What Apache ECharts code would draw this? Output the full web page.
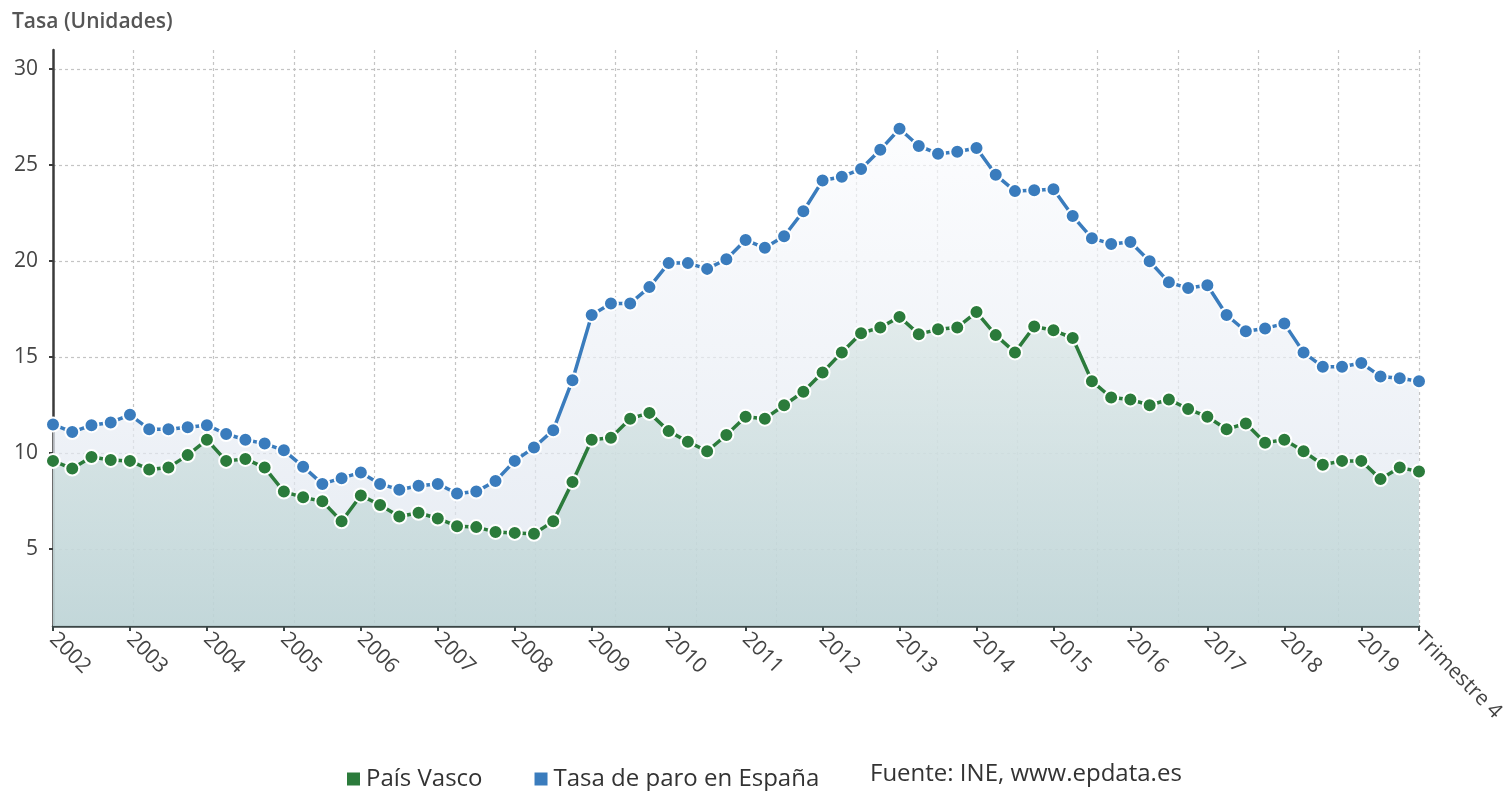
<!DOCTYPE html>
<html>
<head>
<meta charset="utf-8">
<title>Tasa de paro</title>
<script src="https://cdn.jsdelivr.net/npm/echarts@6/dist/echarts.min.js"></script>
<style>
  html, body { margin: 0; padding: 0; background: #fff; }
  #chart { width: 1505px; height: 791px; }
</style>
</head>
<body>
<div id="chart"></div>
<script>
// años y trimestres (eje x)
const years = ['2002', '2003', '2004', '2005', '2006', '2007', '2008', '2009', '2010',
  '2011', '2012', '2013', '2014', '2015', '2016', '2017', '2018', '2019']
const quarters = ['Trimestre 1', 'Trimestre 2', 'Trimestre 3', 'Trimestre 4']

// marcas del eje y
const yTicks = [5, 10, 15, 20, 25, 30]

// País Vasco
const paisVasco = [
  9.6, 9.2, 9.8, 9.65, 9.6, 9.15, 9.25, 9.9,
  10.7, 9.6, 9.7, 9.25, 8.0, 7.7, 7.5, 6.45,
  7.8, 7.3, 6.7, 6.9, 6.6, 6.2, 6.15, 5.9,
  5.85, 5.8, 6.45, 8.5, 10.7, 10.8, 11.8, 12.1,
  11.15, 10.6, 10.1, 10.95, 11.9, 11.8, 12.5, 13.2,
  14.2, 15.25, 16.25, 16.55, 17.1, 16.2, 16.45, 16.55,
  17.35, 16.15, 15.25, 16.6, 16.4, 16.0, 13.75, 12.9,
  12.8, 12.5, 12.8, 12.3, 11.9, 11.25, 11.55, 10.55,
  10.7, 10.1, 9.4, 9.6, 9.6, 8.65, 9.25, 9.05
]

// Tasa de paro en España
const espana = [
  11.5, 11.1, 11.46, 11.6, 12.0, 11.25, 11.25, 11.35,
  11.46, 11.0, 10.7, 10.5, 10.15, 9.3, 8.4, 8.7,
  9.0, 8.4, 8.1, 8.3, 8.4, 7.9, 8.0, 8.55,
  9.6, 10.3, 11.2, 13.8, 17.2, 17.8, 17.8, 18.65,
  19.9, 19.9, 19.6, 20.1, 21.1, 20.7, 21.3, 22.6,
  24.2, 24.4, 24.8, 25.8, 26.9, 26.0, 25.6, 25.7,
  25.9, 24.5, 23.65, 23.7, 23.75, 22.35, 21.2, 20.9,
  21.0, 20.0, 18.9, 18.6, 18.75, 17.2, 16.35, 16.5,
  16.75, 15.25, 14.5, 14.5, 14.7, 14.0, 13.9, 13.75
]

const categories = []
years.forEach((y) => quarters.forEach((q) => categories.push(y + ' ' + q)))
const lastIdx = categories.length - 1

const FONT = '"Open Sans", "Noto Sans", sans-serif'
const BLUE = '#3a7cbd'
const GREEN = '#2b7b3b'

const chart = echarts.init(document.getElementById('chart'))

const showIdx = (i) => i % 4 === 0 || i === lastIdx

const option = {
  animation: false,
  textStyle: { fontFamily: FONT },
  title: {
    text: 'Tasa (Unidades)',
    left: 12,
    top: 12,
    padding: 0,
    textStyle: { fontFamily: FONT, fontSize: 21, fontWeight: 600, color: '#555' }
  },
  legend: {
    data: ['País Vasco', 'Tasa de paro en España'],
    left: 340,
    top: 762,
    icon: 'rect',
    itemWidth: 15,
    itemHeight: 15,
    itemGap: 50,
    textStyle: { fontFamily: FONT, fontSize: 24, color: '#333' }
  },
  graphic: [{
    type: 'text',
    left: 870,
    top: 762,
    style: { text: 'Fuente: INE, www.epdata.es', font: '24px ' + FONT, fill: '#333' }
  }],
  grid: { left: 53, right: 86, top: 50, bottom: 165, outerBoundsMode: 'none' },
  xAxis: [
    {
      type: 'category',
      data: categories,
      boundaryGap: false,
      axisLine: { lineStyle: { color: '#3b4646', width: 2.5 } },
      axisTick: { interval: (i) => showIdx(i), length: 5, lineStyle: { color: '#3b4646', width: 2 } },
      axisLabel: {
        interval: (i) => showIdx(i),
        rotate: -45,
        margin: 10,
        fontSize: 21,
        color: '#444',
        fontFamily: FONT,
        formatter: (v, i) => (i === lastIdx ? quarters[3] : v.slice(0, 4))
      },
      splitLine: { show: false }
    },
    {
      // rejilla vertical
      type: 'value',
      position: 'top',
      min: 0,
      max: 17,
      interval: 1,
      axisLine: { show: false },
      axisTick: { show: false },
      axisLabel: { show: false },
      splitLine: { show: true, lineStyle: { color: '#c4c4c4', type: [3, 3], width: 1.2 } }
    }
  ],
  yAxis: {
    type: 'value',
    min: 1,
    max: 31,
    axisLine: { show: true, lineStyle: { color: '#3b3b3b', width: 2.5 } },
    axisTick: { show: true, customValues: yTicks, length: 4, lineStyle: { color: '#3b3b3b', width: 2 } },
    axisLabel: { customValues: yTicks, fontSize: 21, color: '#444', fontFamily: FONT, margin: 15 },
    splitLine: { show: true, lineStyle: { color: '#c4c4c4', type: [3, 3], width: 1.2 } }
  },
  series: [
    {
      name: 'Tasa de paro en España',
      type: 'line',
      data: espana,
      z: 2,
      symbol: 'circle',
      symbolSize: 14,
      showAllSymbol: true,
      itemStyle: { color: BLUE, borderColor: '#fff', borderWidth: 2 },
      lineStyle: { color: BLUE, width: 3.5 },
      areaStyle: {
        color: new echarts.graphic.LinearGradient(0, 0, 0, 1, [
          { offset: 0, color: '#fafbfd' },
          { offset: 1, color: '#d9e1ec' }
        ])
      }
    },
    {
      name: 'País Vasco',
      type: 'line',
      data: paisVasco,
      z: 3,
      symbol: 'circle',
      symbolSize: 14,
      showAllSymbol: true,
      itemStyle: { color: GREEN, borderColor: '#fff', borderWidth: 2 },
      lineStyle: { color: GREEN, width: 3.5 },
      areaStyle: {
        color: new echarts.graphic.LinearGradient(0, 0, 0, 1, [
          { offset: 0, color: '#dbe7e6' },
          { offset: 1, color: '#b4cfcf' }
        ])
      }
    }
  ]
}

chart.setOption(option)
window.addEventListener('resize', () => chart.resize())
</script>
</body>
</html>
